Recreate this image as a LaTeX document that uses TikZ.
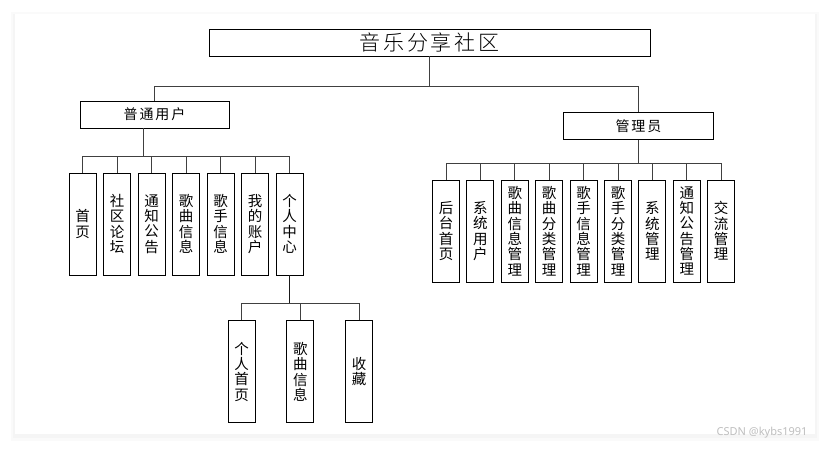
\documentclass[tikz,border=0pt]{standalone}
\usepackage{fontspec}
\setmainfont{Noto Sans CJK SC}
\newfontfamily\wmfont{Noto Sans}
\newfontfamily\spacedfont[LetterSpace=14]{Noto Sans CJK SC}
\newfontfamily\titlefont[LetterSpace=14]{Noto Sans CJK SC Light}
\begin{document}
\begin{tikzpicture}[x=1pt,y=-1pt,
  box/.style={draw=black, line width=0.9pt, inner sep=0pt, fill=white},
  hbox/.style={box, minimum width=149pt, minimum height=27pt, font=\spacedfont\fontsize{14}{15}\selectfont},
  vbox/.style={box, minimum width=27pt, minimum height=102pt, align=center, font=\fontsize{14.5}{15.3}\selectfont},
  conn/.style={draw=black!75, line width=1pt}]
\useasboundingbox (0,0) rectangle (829,449);
% card with soft shadow
\fill[white] (0,0) rectangle (829,449);
\fill[black!2] (11,12) rectangle (819,441);
\fill[black!4] (13,14) rectangle (817,438);
\fill[white] (15,14) rectangle (815,434);
% nodes
\node[box, minimum width=441pt, minimum height=27pt, font=\titlefont\fontsize{21}{23}\selectfont] (title) at (429.5,42.5) {音乐分享社区};
\node[hbox] (user) at (154.5,114.5) {普通用户};
\node[hbox, minimum width=150pt] (admin) at (638.5,126) {管理员};
% left children
\node[vbox] (l1) at (82.5,224) {首\\页};
\node[vbox] (l2) at (117,224) {社\\区\\论\\坛};
\node[vbox] (l3) at (151.5,224) {通\\知\\公\\告};
\node[vbox] (l4) at (186,224) {歌\\曲\\信\\息};
\node[vbox] (l5) at (220.5,224) {歌\\手\\信\\息};
\node[vbox] (l6) at (255,224) {我\\的\\账\\户};
\node[vbox] (l7) at (289.5,224) {个\\人\\中\\心};
% right children
\node[vbox] (r1) at (446,231) {后\\台\\首\\页};
\node[vbox] (r2) at (480.4,231) {系\\统\\用\\户};
\node[vbox] (r3) at (514.8,231) {歌\\曲\\信\\息\\管\\理};
\node[vbox] (r4) at (549.2,231) {歌\\曲\\分\\类\\管\\理};
\node[vbox] (r5) at (583.6,231) {歌\\手\\信\\息\\管\\理};
\node[vbox] (r6) at (618,231) {歌\\手\\分\\类\\管\\理};
\node[vbox] (r7) at (652.4,231) {系\\统\\管\\理};
\node[vbox] (r8) at (686.8,231) {通\\知\\公\\告\\管\\理};
\node[vbox] (r9) at (721.2,231) {交\\流\\管\\理};
% bottom children
\node[vbox] (b1) at (241.7,371.7) {个\\人\\首\\页};
\node[vbox] (b2) at (300.3,371.7) {歌\\曲\\信\\息};
\node[vbox] (b3) at (359.2,371.7) {收\\藏};
% connectors
\draw[conn] (title.south) -- ++(0,30) coordinate (tj);
\draw[conn] (user.north) |- (tj) -| (admin.north);
\draw[conn] ([xshift=-11.5pt]user.south) -- ++(0,28) coordinate (uj);
\foreach \n in {l1,l2,l3,l4,l5,l6,l7} \draw[conn] (\n.north) |- (uj);
\draw[conn] (admin.south) -- ++(0,24) coordinate (aj);
\foreach \n in {r1,r2,r3,r4,r5,r6,r7,r8,r9} \draw[conn] (\n.north) |- (aj);
\draw[conn, line width=1.3pt, draw=black!90] (l7.south) -- ++(0,28.5) coordinate (pj);
\foreach \n in {b1,b2,b3} \draw[conn] (\n.north) |- (pj);
% watermark
\node[text=black!25, font=\wmfont\fontsize{11}{13}\selectfont, anchor=east] (wm) at (811,433) {CSDN @kybs1991};
\end{tikzpicture}
\end{document}
